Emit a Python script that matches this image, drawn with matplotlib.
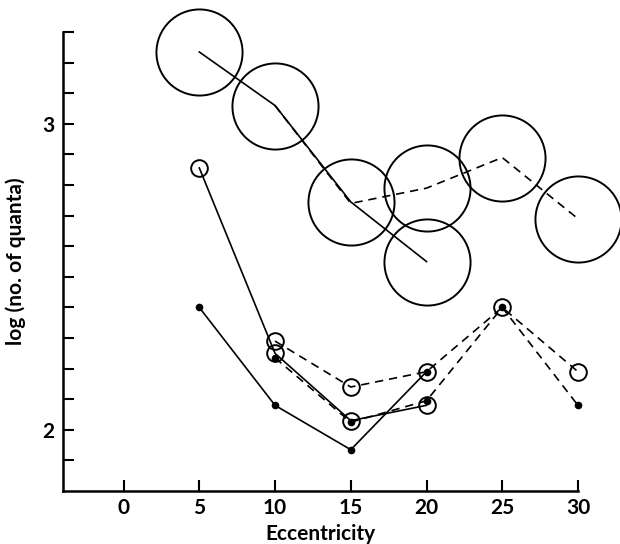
import matplotlib.pyplot as plt
import numpy as np

plt.rcParams['font.family'] = ['Lato', 'DejaVu Sans']

# large-circle series
ecc_big_solid = [5, 10, 15, 20]
big_solid = [3.235, 3.06, 2.745, 2.55]
ecc_big_dash = [10, 15, 20, 25, 30]
big_dash = [3.06, 2.74, 2.79, 2.89, 2.69]

# small open circles, solid line
ecc_s1 = [5, 10, 15, 20]
open_solid = [2.856, 2.25, 2.03, 2.08]
# small open circles, dashed line
ecc_s2 = [10, 15, 20, 25, 30]
open_dash = [2.29, 2.14, 2.19, 2.40, 2.19]
# dots, dashed line
ecc_s3 = [10, 15, 20, 25, 30]
dot_dash = [2.235, 2.025, 2.095, 2.40, 2.08]
# dots, solid line
ecc_s4 = [5, 10, 15, 20]
dot_solid = [2.40, 2.08, 1.935, 2.19]

fig = plt.figure(figsize=(6.2, 5.44), dpi=100)
ax = fig.add_axes([0.1016, 0.0974, 0.8306, 0.8436])

lw = 1.2
dash = (0, (5, 3.5))
kw_open = dict(marker='o', markerfacecolor='none', markeredgecolor='black', markeredgewidth=1.4, clip_on=False)

ax.plot(ecc_big_solid, big_solid, color='black', lw=lw, ms=62, **kw_open)
# first two big circles are shared with the solid series
ax.plot(ecc_big_dash, big_dash, color='black', lw=lw, ls=dash, ms=62, markevery=[2, 3, 4], **kw_open)

ax.plot(ecc_s1, open_solid, color='black', lw=lw, ms=12, **kw_open)
ax.plot(ecc_s2, open_dash, color='black', lw=lw, ls=dash, ms=12, **kw_open)
ax.plot(ecc_s3, dot_dash, color='black', lw=lw, ls=dash, marker='o', ms=4.5, clip_on=False)
ax.plot(ecc_s4, dot_solid, color='black', lw=lw, marker='o', ms=4.5, clip_on=False)

ax.set_xlim(-4, 30)
ax.set_ylim(1.8, 3.3)
ax.set_xticks([0, 5, 10, 15, 20, 25, 30])
ax.set_yticks([2, 3])
ax.set_yticks(np.arange(1.9, 3.31, 0.1), minor=True)
ax.tick_params(axis='both', direction='in', length=8, width=1.5, labelsize=15, pad=6)
ax.tick_params(axis='y', which='minor', direction='in', length=8, width=1.5)
ax.tick_params(axis='x', pad=5)
for lab in ax.get_xticklabels() + ax.get_yticklabels():
    lab.set_fontweight('bold')

for s in ['top', 'right']:
    ax.spines[s].set_visible(False)
for s in ['left', 'bottom']:
    ax.spines[s].set_linewidth(1.8)

ax.set_xlabel('Eccentricity', fontsize=15, fontweight='bold', labelpad=4)
ax.set_ylabel('log (no. of quanta)', fontsize=15, fontweight='bold', labelpad=12)

plt.savefig('out.png', dpi=100)
